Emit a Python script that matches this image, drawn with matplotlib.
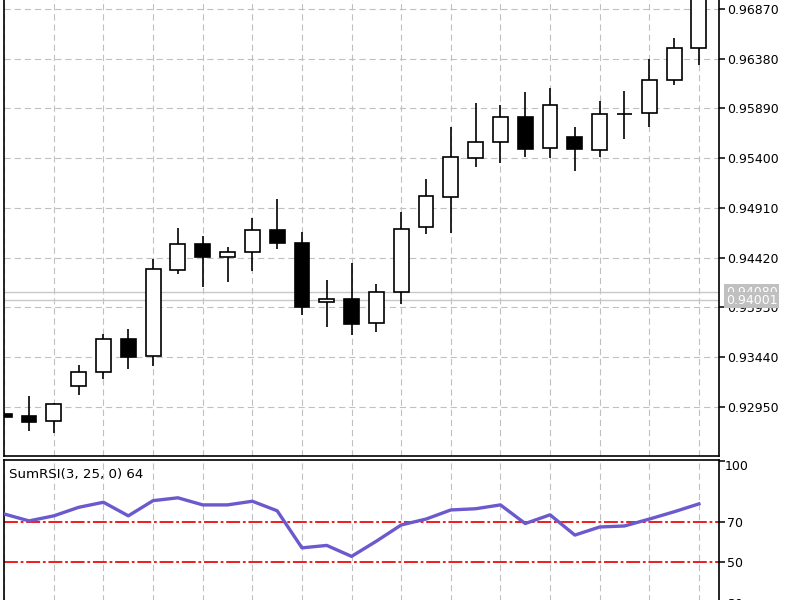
#!/usr/bin/env python3

import matplotlib
matplotlib.use("Agg")
import matplotlib.pyplot as plt
from matplotlib.patches import Rectangle
from matplotlib.transforms import blended_transform_factory

plt.rcParams["font.family"] = ["DejaVu Sans"]
plt.rcParams["lines.scale_dashes"] = False

# candles
opens = [0.92881, 0.92861, 0.92812, 0.93157, 0.93295, 0.93620, 0.93452, 0.94299,
         0.94555, 0.94427, 0.94477, 0.94693, 0.94565, 0.93984, 0.94014, 0.93777,
         0.94083, 0.94723, 0.95018, 0.95403, 0.95560, 0.95806, 0.95501, 0.95609,
         0.95481, 0.95836, 0.95846, 0.96171, 0.96486]
highs = [0.92900, 0.93058, 0.92990, 0.93364, 0.93669, 0.93718, 0.94408, 0.94713,
         0.94634, 0.94526, 0.94812, 0.94999, 0.94674, 0.94201, 0.94368, 0.94161,
         0.94871, 0.95196, 0.95708, 0.95944, 0.95925, 0.96053, 0.96092, 0.95708,
         0.95964, 0.96062, 0.96378, 0.96584, 0.97050]
lows = [0.92840, 0.92714, 0.92694, 0.93068, 0.93226, 0.93324, 0.93354, 0.94260,
        0.94132, 0.94181, 0.94290, 0.94506, 0.93856, 0.93738, 0.93659, 0.93689,
        0.93965, 0.94654, 0.94664, 0.95314, 0.95353, 0.95412, 0.95403, 0.95274,
        0.95412, 0.95590, 0.95708, 0.96122, 0.96318]
closes = [0.92852, 0.92802, 0.92980, 0.93295, 0.93620, 0.93443, 0.94309, 0.94555,
          0.94427, 0.94477, 0.94693, 0.94565, 0.93935, 0.94014, 0.93768, 0.94083,
          0.94703, 0.95028, 0.95412, 0.95560, 0.95806, 0.95491, 0.95925, 0.95491,
          0.95836, 0.95836, 0.96171, 0.96486, 0.97000]

sumrsi = [73.7, 70.3, 72.8, 77.0, 79.5, 72.8, 80.3, 81.7, 78.2, 78.2, 80.0, 75.3,
          57.0, 58.2, 52.8, 60.3, 68.3, 71.2, 75.7, 76.3, 78.2, 69.0, 73.3, 63.3,
          67.3, 67.8, 71.2, 74.8, 78.7]

price_ticks = [0.92950, 0.93440, 0.93930, 0.94420, 0.94910, 0.95400, 0.95890, 0.96380, 0.96870]
rsi_ticks = [100, 70, 50, 30]
rsi_levels = [70, 50]
bid, ask = 0.94001, 0.94080
indicator_label = "SumRSI(3, 25, 0) 64"

W, H = 800, 600
fig = plt.figure(figsize=(8, 6), dpi=100)

def px_rect(left, top, right, bottom):
    return [left / W, 1 - bottom / H, (right - left) / W, (bottom - top) / H]

ax = fig.add_axes(px_rect(4, -3, 719, 456))
ax2 = fig.add_axes(px_rect(4, 460, 719, 612), sharex=ax)

grid_kw = dict(color="#c0c0c0", linewidth=0.8, linestyle=(0, (4.5, 2.8)))
frame_lw = 1.2

n = len(opens)
xs = list(range(n))
body_w = 0.6

# candles
for i in xs:
    o, h, l, c = opens[i], highs[i], lows[i], closes[i]
    ax.vlines(i, l, h, color="black", linewidth=1.2, zorder=3)
    if abs(c - o) < 1e-6:
        ax.hlines(o, i - 0.32, i + 0.32, color="black", linewidth=1.2, zorder=4)
    else:
        face = "white" if c > o else "black"
        ax.add_patch(Rectangle((i - body_w / 2, min(o, c)), body_w, abs(c - o),
                               facecolor=face, edgecolor="black", linewidth=1.2, zorder=4))

# bid / ask lines
ax.axhline(ask, color="#c8c8c8", linewidth=1.0, zorder=2)
ax.axhline(bid, color="#c8c8c8", linewidth=1.0, zorder=2)

ax.set_xlim(-0.01, 28.81)
ax.set_ylim(0.92467, 0.96988)
ax.set_xticks(range(0, n, 2))
ax.set_yticks(price_ticks)
ax.set_yticklabels([f"{p:.5f}" for p in price_ticks])
ax.grid(True, **grid_kw)
ax.set_axisbelow(True)

for a in (ax, ax2):
    a.yaxis.tick_right()
    a.tick_params(axis="y", direction="out", length=4, width=1.1, pad=2,
                  labelsize=9, colors="black")
    a.tick_params(axis="x", length=0, labelbottom=False)
    for s in a.spines.values():
        s.set_linewidth(frame_lw)
        s.set_color("black")

ax.spines["top"].set_visible(False)
ax2.spines["bottom"].set_visible(False)

# price labels for bid/ask (ask label sits mostly under the bid label)
tr = blended_transform_factory(ax.transAxes, ax.transData)
lx = (726 - 4) / 715
for p in (ask, bid):
    ax.text(lx, p, f"{p:.5f}", transform=tr, color="white", fontsize=9,
            va="center", ha="left", clip_on=False, zorder=10,
            bbox=dict(facecolor="#c0c0c0", edgecolor="none", pad=1.2))

# indicator panel
ax2.plot(xs, sumrsi, color="#6a5acd", linewidth=2.4, zorder=3)
for lvl in rsi_levels:
    ax2.axhline(lvl, color="#ee1c1c", linewidth=1.4, linestyle=(0, (10, 2, 2, 2)), zorder=2)
ax2.set_ylim(25.35, 100.35)
ax2.set_yticks(rsi_ticks)
ax2.set_yticklabels(["", "70", "50", "30"])
ax2.grid(True, axis="x", **grid_kw)
ax2.set_axisbelow(True)
ax2.text(1 + 6 / 715, 96.9, "100", transform=blended_transform_factory(ax2.transAxes, ax2.transData),
         fontsize=9, va="center", ha="left", clip_on=False)
ax2.text(5 / 715, 93.2, indicator_label, transform=blended_transform_factory(ax2.transAxes, ax2.transData),
         fontsize=9.6, va="center", ha="left")

fig.savefig("out.png", dpi=100)
